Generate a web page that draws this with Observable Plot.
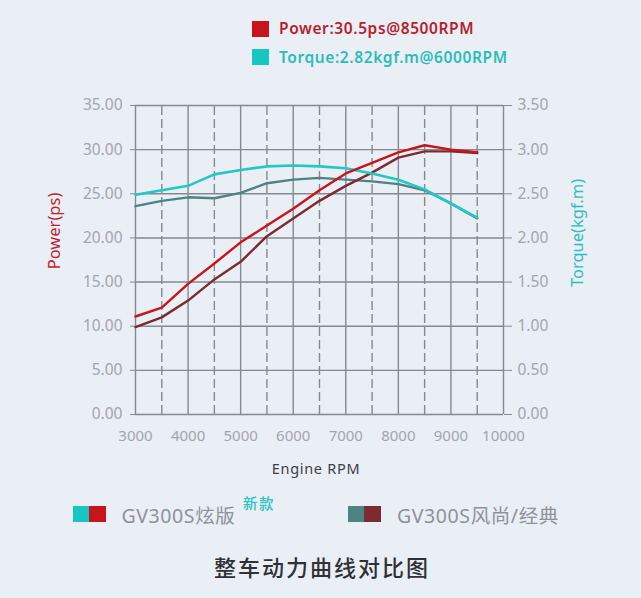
<!DOCTYPE html>
<html>
<head>
<meta charset="utf-8">
<script src="https://cdn.jsdelivr.net/npm/d3@7"></script>
<script src="https://cdn.jsdelivr.net/npm/@observablehq/plot@0.6"></script>
<style>
  html, body { margin: 0; padding: 0; background: #eaeef5; }
  body { width: 641px; height: 598px; position: relative; overflow: hidden; font-family: "Noto Sans", "Noto Sans CJK SC", sans-serif; }
  #chart { position: absolute; left: 0; top: 0; }
  .abs { position: absolute; white-space: nowrap; }
  .sw { position: absolute; }
</style>
</head>
<body>
<div id="chart"></div>

<div class="sw" style="left:252px;top:21px;width:17px;height:16px;background:#c8141b"></div>
<div class="abs" style="left:279px;top:16.5px;font-size:15.5px;font-weight:600;color:#b5222e;letter-spacing:0.6px">Power:30.5ps@8500RPM</div>
<div class="sw" style="left:252px;top:49px;width:17px;height:16px;background:#17c6c3"></div>
<div class="abs" style="left:279px;top:45.5px;font-size:15.5px;font-weight:600;color:#2bbcbc;letter-spacing:0.6px">Torque:2.82kgf.m@6000RPM</div>

<div class="abs" style="left:0;top:458px;width:632px;text-align:center;font-size:14.5px;color:#3d4047;letter-spacing:0.7px">Engine RPM</div>

<div class="sw" style="left:73px;top:506px;width:16px;height:16px;background:#17c6c3"></div>
<div class="sw" style="left:89px;top:506px;width:17px;height:16px;background:#c8141b"></div>
<div class="abs" style="left:121.5px;top:500px;font-size:19.5px;color:#8e9299;letter-spacing:0.6px;font-family:'Noto Sans','Noto Sans CJK SC'">GV300S炫版</div>
<div class="abs" style="left:243px;top:492px;font-size:14.5px;font-weight:500;color:#2bc2c2;letter-spacing:1.5px;font-family:'Noto Sans CJK SC'">新款</div>

<div class="sw" style="left:348px;top:506px;width:16px;height:16px;background:#4c8483"></div>
<div class="sw" style="left:364px;top:506px;width:17px;height:16px;background:#7d2a31"></div>
<div class="abs" style="left:397px;top:500px;font-size:19.5px;color:#8e9299;letter-spacing:0.6px;font-family:'Noto Sans','Noto Sans CJK SC'">GV300S风尚/经典</div>

<div class="abs" style="left:0;top:550px;width:644px;text-align:center;font-size:22px;font-weight:500;color:#2f3136;letter-spacing:2px;font-family:'Noto Sans CJK SC'">整车动力曲线对比图</div>

<script>
// ---- data ----
const rpm = [3000, 3500, 4000, 4500, 5000, 5500, 6000, 6500, 7000, 7500, 8000, 8500, 9000, 9500];
const powerNew = [11.1, 12.1, 14.8, 17.1, 19.5, 21.4, 23.3, 25.4, 27.3, 28.5, 29.7, 30.5, 30.0, 29.7];
const powerOld = [9.9, 11.0, 12.9, 15.3, 17.3, 20.2, 22.2, 24.2, 25.9, 27.4, 29.1, 29.8, 29.8, 29.6];
const torqueNew = [2.49, 2.54, 2.59, 2.72, 2.77, 2.81, 2.82, 2.81, 2.79, 2.73, 2.66, 2.55, 2.39, 2.23];
const torqueOld = [2.36, 2.42, 2.46, 2.45, 2.51, 2.62, 2.66, 2.68, 2.66, 2.64, 2.61, 2.54, 2.39, 2.22];
const xTicks = [3000, 4000, 5000, 6000, 7000, 8000, 9000, 10000];
const xHalfTicks = [3500, 4500, 5500, 6500, 7500, 8500, 9500];
const powerTicks = [0, 5, 10, 15, 20, 25, 30, 35];
const torqueTicks = [0, 0.5, 1.0, 1.5, 2.0, 2.5, 3.0, 3.5];

const pts = (ys) => rpm.map((r, i) => ({rpm: r, v: ys[i]}));
const grid = "#858a92";
const tickFill = "#a2a6ad";

const chart = Plot.plot({
  width: 641,
  height: 598,
  marginLeft: 135,
  marginRight: 138,
  marginTop: 105,
  marginBottom: 184,
  style: {background: "transparent", fontFamily: "'Noto Sans', sans-serif"},
  x: {domain: [3000, 10000]},
  y: {domain: [0, 35]},
  marks: [
    Plot.ruleY(powerTicks, {x1: 3000, x2: 10000, stroke: grid, strokeWidth: 1.4}),
    Plot.ruleX(xTicks, {y1: 0, y2: 35, stroke: grid, strokeWidth: 1.4}),
    Plot.ruleX(xHalfTicks, {y1: 0, y2: 35, stroke: grid, strokeWidth: 1.4, strokeDasharray: "9,4"}),
    Plot.axisY(powerTicks, {anchor: "left", tickFormat: d => d.toFixed(2), tickSize: 5, tickPadding: 8, stroke: grid, fill: tickFill, fontSize: 15.5, label: null}),
    Plot.axisY(torqueTicks.map(t => t * 10), {anchor: "right", tickFormat: d => (d / 10).toFixed(2), tickSize: 8, tickPadding: 6, stroke: grid, fill: tickFill, fontSize: 15.5, label: null}),
    Plot.axisX(xTicks, {anchor: "bottom", tickSize: 0, tickPadding: 16, tickFormat: d => String(d), fill: tickFill, fontSize: 15, label: null}),
    Plot.text(["Power(ps)"], {frameAnchor: "left", textAnchor: "middle", dx: -81, dy: -29, rotate: -90, fill: "#c0232e", fontSize: 16.5}),
    Plot.text(["Torque(kgf.m)"], {frameAnchor: "right", textAnchor: "middle", dx: 74, dy: -27, rotate: -90, fill: "#2cc0c0", fontSize: 16.5}),
    Plot.line(pts(torqueOld), {x: "rpm", y: d => d.v * 10, stroke: "#4c8483", strokeWidth: 2.4}),
    Plot.line(pts(powerOld), {x: "rpm", y: "v", stroke: "#7d2a31", strokeWidth: 2.4}),
    Plot.line(pts(torqueNew), {x: "rpm", y: d => d.v * 10, stroke: "#20c8c6", strokeWidth: 2.6}),
    Plot.line(pts(powerNew), {x: "rpm", y: "v", stroke: "#c8141b", strokeWidth: 2.4})
  ]
});
document.getElementById("chart").appendChild(chart);
</script>
</body>
</html>
